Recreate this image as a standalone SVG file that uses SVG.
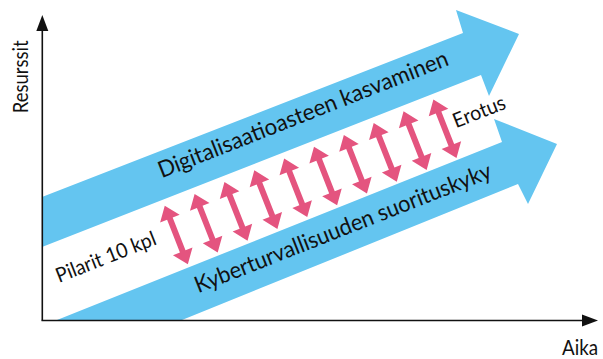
<svg xmlns="http://www.w3.org/2000/svg" xmlns:xlink="http://www.w3.org/1999/xlink" width="603" height="359" viewBox="0 0 603 359">
  <style>
    .band { fill: #64C5F0; }
    .pilari { fill: #E4547F; }
    .axis { stroke: #111; stroke-width: 1.6; fill: none; }
    .axis-head { fill: #111; }
    .lbl { font-family: Lato, "Open Sans", "Liberation Sans", sans-serif; fill: #111; }
    .big { font-size: 23px; }
    .small { font-size: 20.5px; }
  </style>
  <defs>
    <!-- vertical double-headed arrow, centred on the origin -->
    <polygon id="pilari-shape" points="0,-31.5 10.5,-17.5 3,-17.5 3,17.5 10.5,17.5 0,31.5 -10.5,17.5 -3,17.5 -3,-17.5 -10.5,-17.5"/>
  </defs>

  <!-- wide trend arrows -->
  <g id="digitalisaatio">
    <polygon class="band" points="42,197 463,33 456,10 519,34 489,96 481,75 42,247"/>
    <text class="lbl big" x="161.7" y="178.3" transform="rotate(-21.5 161.7 178.3)" textLength="310" lengthAdjust="spacingAndGlyphs">Digitalisaatioasteen kasvaminen</text>
  </g>
  <g id="kyberturvallisuus">
    <polygon class="band" points="57,320 502,142 494,119 557,144 528,204 518,184 182,320"/>
    <text class="lbl big" x="198.3" y="293.3" transform="rotate(-21.5 198.3 293.3)" textLength="317" lengthAdjust="spacingAndGlyphs">Kyberturvallisuuden suorituskyky</text>
  </g>

  <!-- ten pillars bridging the gap -->
  <g id="pilarit" class="pilari">
    <use xlink:href="#pilari-shape" transform="translate(176.3 235) rotate(-21.5)"/>
    <use xlink:href="#pilari-shape" transform="translate(206.15 223.2) rotate(-21.5)"/>
    <use xlink:href="#pilari-shape" transform="translate(236 211.4) rotate(-21.5)"/>
    <use xlink:href="#pilari-shape" transform="translate(265.85 199.6) rotate(-21.5)"/>
    <use xlink:href="#pilari-shape" transform="translate(295.7 187.8) rotate(-21.5)"/>
    <use xlink:href="#pilari-shape" transform="translate(325.55 176) rotate(-21.5)"/>
    <use xlink:href="#pilari-shape" transform="translate(355.4 164.2) rotate(-21.5)"/>
    <use xlink:href="#pilari-shape" transform="translate(385.25 152.4) rotate(-21.5)"/>
    <use xlink:href="#pilari-shape" transform="translate(415.1 140.6) rotate(-21.5)"/>
    <use xlink:href="#pilari-shape" transform="translate(444.95 128.8) rotate(-21.5)"/>
  </g>
  <g id="pilarit-label">
    <text class="lbl small" x="59" y="283" transform="rotate(-21.5 59 283)" textLength="106" lengthAdjust="spacingAndGlyphs">Pilarit 10 kpl</text>
  </g>
  <g id="erotus-label">
    <text class="lbl small" x="456" y="128.3" transform="rotate(-21.5 456 128.3)" textLength="55" lengthAdjust="spacingAndGlyphs">Erotus</text>
  </g>

  <!-- axes -->
  <g id="axes">
    <line class="axis" x1="42.3" y1="30" x2="42.3" y2="320.5"/>
    <line class="axis" x1="41.5" y1="320.5" x2="583" y2="320.5"/>
    <polygon class="axis-head" points="42.3,15 36.3,31 48.3,31"/>
    <polygon class="axis-head" points="598,320.5 582,314.5 582,326.5"/>
    <text class="lbl small" x="28.3" y="113.3" transform="rotate(-90 28.3 113.3)" textLength="73" lengthAdjust="spacingAndGlyphs">Resurssit</text>
    <text class="lbl small" x="562" y="355" textLength="36" lengthAdjust="spacingAndGlyphs">Aika</text>
  </g>
</svg>
